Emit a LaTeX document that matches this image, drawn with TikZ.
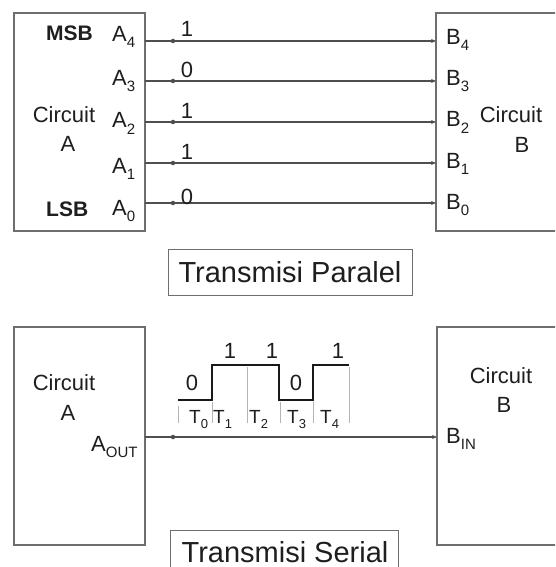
\documentclass[tikz,border=0pt]{standalone}
\usepackage{fontspec}
\setmainfont{Liberation Sans}
\usetikzlibrary{arrows.meta}
\definecolor{ink}{HTML}{1E1E1E}
\definecolor{wire}{HTML}{4E4E4E}
\definecolor{frame}{HTML}{6E6E6E}
\definecolor{tickc}{HTML}{B4B4B4}
\newcommand\sbs[1]{\raisebox{-6pt}{\fontsize{15}{15}\selectfont #1}}
\newcommand\tsb[1]{\raisebox{-5pt}{\fontsize{13}{13}\selectfont #1}}
\begin{document}
\begin{tikzpicture}[x=1pt,y=-1pt,
  box/.style={draw=frame, line width=1.4pt, inner sep=0pt, outer sep=0pt, anchor=north west},
  txt/.style={inner sep=0pt, text=ink, font=\fontsize{22}{22}\selectfont},
  bold/.style={txt, font=\fontsize{21}{21}\selectfont\bfseries},
  big/.style={inner sep=0pt, text=ink, text depth=0pt, font=\fontsize{29}{29}\selectfont},
  tlab/.style={inner sep=0pt, text=ink, font=\fontsize{19}{19}\selectfont},
  sig/.style={draw=wire, line width=1.3pt, -{Stealth[length=5pt,width=4pt]}},
  dotm/.style={fill=wire, circle, inner sep=0pt, minimum size=4.5pt},
  wave/.style={draw=black!90, line width=2pt},
  tk/.style={draw=tickc, line width=0.8pt}]
\clip (0,0) rectangle (555,567);
\useasboundingbox (0,0) rectangle (555,567);
\fill[white] (0,0) rectangle (555,567);

% ---------- parallel ----------
\node[box, minimum width=131pt, minimum height=218pt] (cA) at (14,13) {};
\node[box, minimum width=130pt, minimum height=218pt] (cB) at (436,13) {};

\node[bold, anchor=base west] (msb) at (46,41) {MSB};
\node[bold, anchor=base west] (lsb) at (46,216) {LSB};
\node[txt, anchor=base] (ca1) at (64,122) {Circuit};
\node[txt, anchor=base] (ca2) at (68,151) {A};
\node[txt, anchor=base] (cb1) at (511,122) {Circuit};
\node[txt, anchor=base] (cb2) at (522,152) {B};

\foreach \i/\ly/\ab/\bb/\v/\vb in {4/41/42/45/1/37, 3/81/86/86/0/78, 2/122/128/127/1/118, 1/163/173/168/1/159, 0/203/215/209/0/204}{
  \node[txt, anchor=base west] (A\i) at (112,\ab) {A\sbs{\i}};
  \node[txt, anchor=base west] (B\i) at (446,\bb) {B\sbs{\i}};
  \coordinate (pa\i) at (145,\ly);
  \coordinate (pb\i) at (436,\ly);
  \draw[sig] (pa\i) -- (pb\i);
  \node[dotm] (m\i) at (173,\ly) {};
  \node[txt, anchor=base] (v\i) at (187,\vb) {\v};
}

\node[draw=frame, line width=1.4pt, minimum width=244pt, minimum height=46pt, inner sep=0pt, anchor=north west] (tp) at (168,249) {};
\node[big, anchor=base] (tpt) at (290,282) {Transmisi Paralel};

% ---------- serial ----------
\node[box, minimum width=131pt, minimum height=218pt] (sA) at (14,327) {};
\node[box, minimum width=130pt, minimum height=218pt] (sB) at (437,327) {};

\node[txt, anchor=base] (sa1) at (64,390) {Circuit};
\node[txt, anchor=base] (sa2) at (68,420) {A};
\node[txt, anchor=base west] (aout) at (91,451) {A\sbs{OUT}};
\node[txt, anchor=base] (sb1) at (501,383) {Circuit};
\node[txt, anchor=base] (sb2) at (504,412) {B};
\node[txt, anchor=base west] (bin) at (446,443) {B\sbs{IN}};

\coordinate (po) at (145,437);
\coordinate (pi) at (437,437);
\draw[sig] (po) -- (pi);
\node[dotm] (ms) at (173,437) {};

% ticks
\draw[tk] (178,406) -- (178,423);
\draw[tk] (212,402) -- (212,423);
\draw[tk] (247,367) -- (247,423);
\draw[tk] (280,402) -- (280,423);
\draw[tk] (313,402) -- (313,423);
\draw[tk] (349,367) -- (349,423);

% waveform
\draw[wave] (178,400) -- (212,400) -- (212,365) -- (279,365) -- (279,400) -- (313,400) -- (313,365) -- (349,365);

\node[txt, anchor=base] (w0) at (192,390) {0};
\node[txt, anchor=base] (w1) at (230,358) {1};
\node[txt, anchor=base] (w2) at (272,358) {1};
\node[txt, anchor=base] (w3) at (296,390) {0};
\node[txt, anchor=base] (w4) at (338,358) {1};

\node[tlab, anchor=base west] (t0) at (189,423) {T\tsb{0}};
\node[tlab, anchor=base west] (t1) at (213,423) {T\tsb{1}};
\node[tlab, anchor=base west] (t2) at (249,423) {T\tsb{2}};
\node[tlab, anchor=base west] (t3) at (287,423) {T\tsb{3}};
\node[tlab, anchor=base west] (t4) at (320,423) {T\tsb{4}};

\node[draw=frame, line width=1.4pt, minimum width=228pt, minimum height=60pt, inner sep=0pt, anchor=north west] (ts) at (170,530) {};
\node[big, anchor=base] (tst) at (285,562) {Transmisi Serial};
\end{tikzpicture}
\end{document}
